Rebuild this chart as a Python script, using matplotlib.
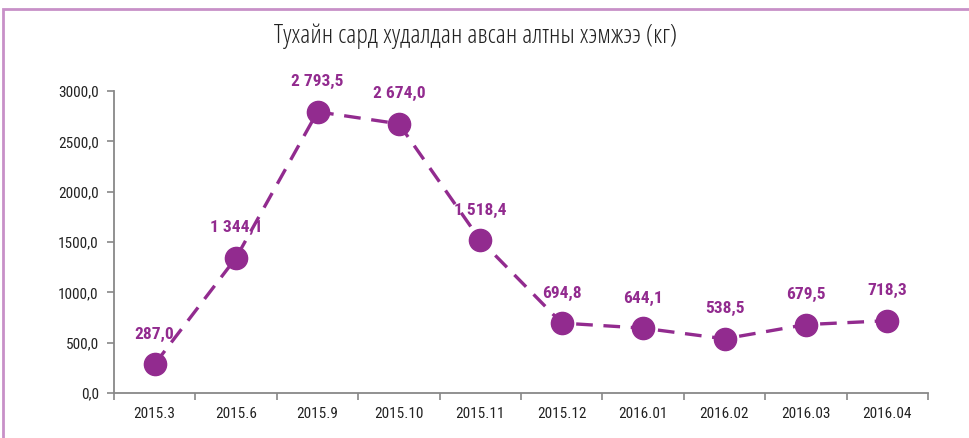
import matplotlib
matplotlib.use("Agg")
import matplotlib.pyplot as plt
from matplotlib.patches import Rectangle
from matplotlib import font_manager

categories = ["2015.3", "2015.6", "2015.9", "2015.10", "2015.11",
              "2015.12", "2016.01", "2016.02", "2016.03", "2016.04"]
values = [287.0, 1344.1, 2793.5, 2674.0, 1518.4, 694.8, 644.1, 538.5, 679.5, 718.3]
labels = ["287,0", "1 344,1", "2 793,5", "2 674,0", "1 518,4",
          "694,8", "644,1", "538,5", "679,5", "718,3"]
yticks = [0, 500, 1000, 1500, 2000, 2500, 3000]
ytick_labels = ["0,0", "500,0", "1000,0", "1500,0", "2000,0", "2500,0", "3000,0"]
title = "Тухайн сард худалдан авсан алтны хэмжээ (кг)"

ttf = font_manager.fontManager.ttflist


def is_narrow(f):
    n = f.name.lower()
    return ('condensed' in n or 'narrow' in n or
            str(f.stretch) in ('condensed', 'semi-condensed', 'extra-condensed'))


def wnum(f):
    w = f.weight
    if isinstance(w, str):
        w = {'light': 300, 'normal': 400, 'regular': 400, 'book': 400,
             'medium': 500, 'bold': 700}.get(w, 400)
    return w


def pick(weight_pred, prefer):
    cands = [f for f in ttf if is_narrow(f) and weight_pred(wnum(f))
             and 'italic' not in str(f.style).lower() and 'oblique' not in str(f.style).lower()]
    for p in prefer:
        for f in cands:
            if p.lower() in f.name.lower() or p.lower() in f.fname.lower():
                return f.fname
    return cands[0].fname if cands else None


title_fn = pick(lambda w: w <= 350, ['Open Sans', 'Roboto', 'Noto Sans', 'Liberation', 'DejaVu']) \
    or pick(lambda w: w <= 450, ['Open Sans', 'Roboto', 'Noto Sans', 'Liberation', 'DejaVu'])
reg_fn = pick(lambda w: 350 < w <= 450, ['Liberation', 'Roboto', 'Noto Sans', 'Open Sans', 'DejaVu'])
bold_fn = pick(lambda w: w >= 650, ['Liberation', 'Roboto', 'Noto Sans', 'Open Sans', 'DejaVu'])

title_fp = font_manager.FontProperties(fname=title_fn, size=19) if title_fn else \
    font_manager.FontProperties(family='Liberation Sans', size=14)
reg_fp = font_manager.FontProperties(fname=reg_fn, size=11) if reg_fn else \
    font_manager.FontProperties(family='Liberation Sans', size=10)
bold_fp = font_manager.FontProperties(fname=bold_fn, size=12.5) if bold_fn else \
    font_manager.FontProperties(family='Liberation Sans', weight='bold', size=11)

purple = "#922B8F"
W, H = 970, 438
fig = plt.figure(figsize=(W / 100, H / 100), dpi=100)
ax = fig.add_axes([114 / W, 1 - 393 / H, (928 - 114) / W, (393 - 91) / H])

x = list(range(len(categories)))
ax.plot(x, values, color=purple, lw=2.4, dashes=(5, 3.2), marker='o',
        markersize=16, markerfacecolor=purple, markeredgecolor=purple, zorder=3)
for xi, v, lab in zip(x, values, labels):
    ax.annotate(lab, (xi, v), xytext=(0, 21.5), textcoords='offset points',
                ha='center', va='center', color=purple, fontproperties=bold_fp,
                zorder=4)

ax.set_xlim(-0.5, len(categories) - 0.5)
ax.set_ylim(0, 3000)
ax.set_yticks(yticks)
ax.set_yticklabels(ytick_labels, fontproperties=reg_fp, color="#222222")
ax.set_xticks(x)
ax.set_xticklabels(categories, fontproperties=reg_fp, color="#222222")
ax.set_xticks([i - 0.5 for i in range(len(categories) + 1)], minor=True)
ax.tick_params(axis='x', which='major', length=0, pad=10)
ax.tick_params(axis='x', which='minor', length=5, color="#888888", width=1.2)
ax.tick_params(axis='y', length=5, color="#888888", width=1.2, pad=6)
for s in ['top', 'right']:
    ax.spines[s].set_visible(False)
for s in ['left', 'bottom']:
    ax.spines[s].set_color("#888888")
    ax.spines[s].set_linewidth(1.3)

fig.text(476 / W, 1 - 36 / H, title, ha='center', va='center',
         fontproperties=title_fp, color="#222222")

fig.patches.append(Rectangle((3.5 / W, -0.1), 1.1, 1 - 8.5 / H + 0.1,
                             transform=fig.transFigure, fill=False,
                             edgecolor="#C890C8", linewidth=2))

fig.savefig("out.png", dpi=100, facecolor="white")
